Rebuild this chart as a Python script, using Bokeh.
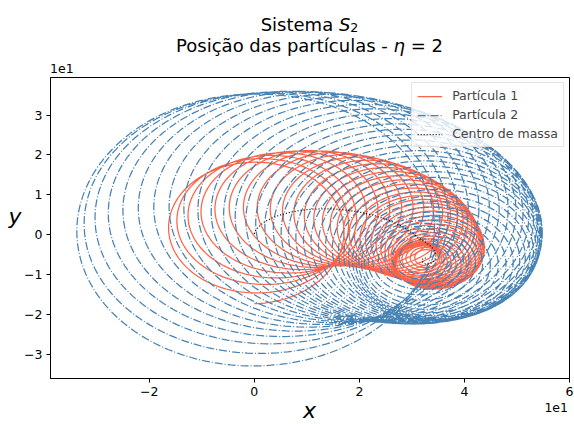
import numpy as np
from bokeh.plotting import figure
from bokeh.models import FixedTicker, Div
from bokeh.layouts import column, row
from bokeh.embed import file_html
from bokeh.resources import INLINE

# --- system parameters -------------------------------------------------
eta = 2.0                      # mass ratio m1 / m2
n_loops = 39                   # revolutions of the relative orbit
pts_per_loop = 220

# centre of mass: start point, rest point and damping time (in revolutions)
cm_start = [0.0, 0.25]
cm_rest = [32.6, -6.25]
cm_tau = 6.0
cm_turn = [20.0, 27.0, 3.0]    # deg per unit s, tail deg per s^2, tail onset (s)

# relative orbit: radius polynomial (c0, c1, c2) in t, phase (deg)
rel_radius = [51.0, -0.51, -0.0165]
rel_phase = -90.0
# axis ratio y/x of the relative orbit: final value, initial excess, decay time
rel_axis_ratio = [0.92, 0.11, 2.0]

# axis ticks (data units, shown with a 1e1 offset)
x_ticks = [-20, 0, 20, 40, 60]
y_ticks = [-30, -20, -10, 0, 10, 20, 30]
x_range = (-38.8, 60.0)
y_range = (-36.0, 39.4)

# --- trajectories -------------------------------------------------------
t = np.linspace(0.0, n_loops, n_loops * pts_per_loop + 1)
s = t / cm_tau

d0 = np.array(cm_start) - np.array(cm_rest)
r0 = np.hypot(*d0)
th0 = np.arctan2(d0[1], d0[0])
r_cm = r0 * (1.0 + s) * np.exp(-s)
th_cm = (th0 - np.deg2rad(cm_turn[0]) * s
         - np.deg2rad(cm_turn[1]) * np.clip(s - cm_turn[2], 0, None) ** 2)
cm_x = cm_rest[0] + r_cm * np.cos(th_cm)
cm_y = cm_rest[1] + r_cm * np.sin(th_cm)

rho = rel_radius[0] + rel_radius[1] * t + rel_radius[2] * t ** 2
phi = 2 * np.pi * t + np.deg2rad(rel_phase)
k = rel_axis_ratio[0] + rel_axis_ratio[1] * np.exp(-t / rel_axis_ratio[2])
rel_x = rho * np.cos(phi)
rel_y = k * rho * np.sin(phi)

w1 = 1.0 / (1.0 + eta)         # m2 / M
w2 = eta / (1.0 + eta)         # m1 / M
p1_x, p1_y = cm_x + w1 * rel_x, cm_y + w1 * rel_y
p2_x, p2_y = cm_x - w2 * rel_x, cm_y - w2 * rel_y

# --- figure -------------------------------------------------------------
FONT = "DejaVu Sans"
p = figure(width=553, height=326, x_range=x_range, y_range=y_range,
           output_backend="svg", toolbar_location=None,
           min_border_left=29, min_border_right=5,
           min_border_top=2, min_border_bottom=23)
p.title.visible = False
p.xgrid.visible = False
p.ygrid.visible = False
p.outline_line_color = "black"
p.outline_line_width = 1
p.outline_line_alpha = 1
p.background_fill_color = "white"
p.border_fill_color = "white"

p.line(p1_x, p1_y, color="tomato", line_width=1.25, legend_label="Partícula 1")
p.line(p2_x, p2_y, color="steelblue", line_width=1.25, line_dash="8 2 1 2",
       legend_label="Partícula 2")
p.line(cm_x, cm_y, color="black", line_width=1.25, line_dash="1 2",
       legend_label="Centro de massa")

for ax, ticks in ((p.xaxis, x_ticks), (p.yaxis, y_ticks)):
    ax.ticker = FixedTicker(ticks=ticks)
    ax.major_label_overrides = {
        v: (("\u2212" if v < 0 else "") + str(abs(v) // 10)) for v in ticks}
    ax.major_label_text_font = FONT
    ax.major_label_text_font_size = "12.5px"
    ax.major_label_text_color = "black"
    ax.major_tick_out = 4
    ax.major_tick_in = 0
    ax.minor_tick_out = 0
    ax.minor_tick_in = 0
    ax.major_label_standoff = 4
    ax.axis_line_color = "black"
    ax.major_tick_line_color = "black"

leg = p.legend[0]
leg.location = "top_right"
leg.margin = 5
leg.padding = 5
leg.spacing = 4
leg.glyph_width = 25
leg.glyph_height = 14
leg.label_height = 14
leg.label_standoff = 10
leg.label_text_font = FONT
leg.label_text_font_size = "12.5px"
leg.border_line_color = "#cccccc"
leg.border_line_width = 1
leg.background_fill_alpha = 0.8

# --- title, axis labels and offset texts --------------------------------
base = "position:absolute;white-space:nowrap;"
box = f"position:relative;font-family:'{FONT}';color:#000;"
title_html = (
    f'<div style="{box}width:574px;height:75px;">'
    f'<div style="{base}left:45px;width:529px;top:14.8px;font-size:18px;'
    f'line-height:20px;text-align:center;">Sistema <i>S</i>'
    f'<span style="font-size:12.6px;position:relative;top:1px;">2</span></div>'
    f'<div style="{base}left:45px;width:529px;top:35.8px;font-size:18px;'
    f'line-height:20px;text-align:center;">'
    f'Posição das partículas - <i>η</i> = 2</div>'
    f'<div style="{base}left:50px;top:61px;font-size:12.5px;'
    f'line-height:15px;">1e1</div></div>'
)
ylabel_html = (
    f'<div style="{box}width:21px;height:326px;">'
    f'<div style="{base}left:3px;width:24px;top:132px;font-size:22px;'
    f'line-height:20px;text-align:center;font-style:italic;">y</div></div>'
)
bottom_html = (
    f'<div style="{box}width:574px;height:23px;">'
    f'<div style="{base}left:45px;width:529px;top:0px;font-size:22px;'
    f'line-height:19px;text-align:center;font-style:italic;">x</div>'
    f'<div style="{base}right:6px;top:1.4px;font-size:12.5px;'
    f'line-height:12.5px;">1e1</div></div>'
)
title_div = Div(text=title_html, width=574, height=75, margin=0)
ylabel_div = Div(text=ylabel_html, width=21, height=326, margin=0)
bottom_div = Div(text=bottom_html, width=574, height=23, margin=0)

layout = column(title_div, row(ylabel_div, p, spacing=0), bottom_div,
                spacing=0)
open("out.html", "w").write(file_html(layout, INLINE))
